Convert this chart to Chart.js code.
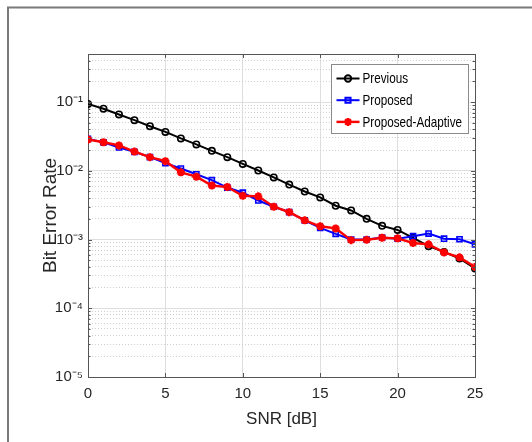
<!DOCTYPE html>
<html>
<head>
<meta charset="utf-8">
<script src="https://cdn.jsdelivr.net/npm/chart.js@4.4.1/dist/chart.umd.min.js"></script>
<style>
html,body{margin:0;padding:0;background:#fff;overflow:hidden}
#wrap{width:532px;height:442px;position:relative}
</style>
</head>
<body>
<div id="wrap"><canvas id="c" width="532" height="442"></canvas></div>
<script>
// ---- data ----
const snr = [0,1,2,3,4,5,6,7,8,9,10,11,12,13,14,15,16,17,18,19,20,21,22,23,24,25];
const previous = [0.094,0.080,0.066,0.0545,0.0445,0.0368,0.0296,0.0242,0.0195,0.0158,0.0126,0.0101,0.0080,0.0063,0.0050,0.0041,0.0031,0.00265,0.0020,0.00158,0.00138,0.00106,0.00080,0.00066,0.00053,0.00038];
const proposed = [0.0292,0.0259,0.0218,0.0189,0.0158,0.0129,0.0108,0.0089,0.0073,0.0057,0.0048,0.0037,0.0030,0.0025,0.0019,0.00148,0.00121,0.00100,0.00100,0.00107,0.00103,0.00112,0.00122,0.00103,0.00101,0.00085];
const adaptive = [0.0285,0.0260,0.0234,0.0190,0.0158,0.0138,0.0095,0.0082,0.0061,0.0058,0.00434,0.00425,0.0030,0.0025,0.0019,0.00156,0.00145,0.00098,0.00099,0.00106,0.00104,0.00089,0.00085,0.00065,0.00055,0.00040];
const seriesLabels = ['Previous','Proposed','Proposed-Adaptive'];
const xTickValues = [0,5,10,15,20,25];
const xTickLabels = ['0','5','10','15','20','25'];
const yTickValues = [1e-5,1e-4,1e-3,1e-2,1e-1];
const yTickLabels = ['10\u207B\u2075','10\u207B\u2074','10\u207B\u00B3','10\u207B\u00B2','10\u207B\u00B9'];
const yMin = 1e-5, yMax = 0.5;
const xTitle = 'SNR [dB]';
const yTitle = 'Bit Error Rate';

// ---- styling ----
const REG = "'Liberation Sans',Arial,sans-serif";
const TXT = '#262626';
const AXIS = '#555555';

// minor grid positions (1..9 x each decade)
const yGrid = [];
yTickValues.forEach(d => { for (let k = 1; k <= 9; k++) { const v = +(d * k).toPrecision(3); if (v <= yMax + 1e-12) yGrid.push(v); } });

function isMajorVal(v) { return yTickValues.some(t => Math.abs(Math.log10(v) - Math.log10(t)) < 1e-6); }

const decor = {
  id: 'decor',
  beforeDraw(chart) {
    const ctx = chart.ctx;
    ctx.save();
    ctx.fillStyle = '#fff';
    ctx.fillRect(0, 0, chart.width, chart.height);
    ctx.strokeStyle = '#7a7a7a';
    ctx.lineWidth = 2;
    ctx.beginPath();
    ctx.moveTo(8, chart.height);
    ctx.lineTo(8, 7.5);
    ctx.lineTo(chart.width, 7.5);
    ctx.stroke();
    ctx.restore();
  },
  afterDatasetsDraw(chart) {
    const ctx = chart.ctx, ca = chart.chartArea;
    const xs = chart.scales.x, ys = chart.scales.y;
    ctx.save();
    // box top/right
    ctx.strokeStyle = AXIS; ctx.lineWidth = 1;
    ctx.beginPath();
    ctx.moveTo(ca.left, ca.top + 0.5); ctx.lineTo(ca.right + 0.5, ca.top + 0.5); ctx.lineTo(ca.right + 0.5, ca.bottom);
    ctx.stroke();
    // inward ticks
    ctx.beginPath();
    xTickValues.forEach(v => {
      const px = Math.round(xs.getPixelForValue(v)) + 0.5;
      ctx.moveTo(px, ca.bottom); ctx.lineTo(px, ca.bottom - 4);
      ctx.moveTo(px, ca.top); ctx.lineTo(px, ca.top + 4);
    });
    yGrid.forEach(v => {
      const py = Math.round(ys.getPixelForValue(v)) + 0.5;
      const L = isMajorVal(v) ? 4 : 2.5;
      ctx.moveTo(ca.left, py); ctx.lineTo(ca.left + L, py);
      ctx.moveTo(ca.right, py); ctx.lineTo(ca.right - L, py);
    });
    ctx.stroke();

    // legend
    const w = 137, h = 69;
    const bx = Math.round(ca.right - 7 - w) + 0.5, by = Math.round(ca.top + 10) + 0.5;
    ctx.fillStyle = '#fff';
    ctx.fillRect(bx, by, w, h);
    ctx.strokeStyle = '#8a8a8a'; ctx.lineWidth = 1;
    ctx.strokeRect(bx, by, w, h);
    const dsets = chart.data.datasets;
    dsets.forEach((ds, i) => {
      const cy = by + 14 + i * 21.7;
      const x0 = bx + 5, x1 = bx + 28;
      ctx.strokeStyle = ds.borderColor; ctx.lineWidth = ds.borderWidth;
      ctx.beginPath(); ctx.moveTo(x0, cy); ctx.lineTo(x1, cy); ctx.stroke();
      ctx.fillStyle = ds.pointBackgroundColor;
      ctx.strokeStyle = ds.borderColor;
      Chart.helpers.drawPoint(ctx, {
        pointStyle: ds.pointStyle, radius: ds.pointRadius, rotation: 0,
        borderWidth: ds.pointBorderWidth
      }, (x0 + x1) / 2, cy);
      // condensed text, as in the reference figure
      ctx.save();
      ctx.translate(bx + 31, cy + 0.5);
      ctx.scale(0.78, 1);
      ctx.font = '15px ' + REG;
      ctx.textBaseline = 'middle';
      ctx.textAlign = 'left';
      ctx.fillStyle = '#000';
      ctx.fillText(ds.label, 0, 0);
      ctx.restore();
    });
    ctx.restore();
  }
};

const chart = new Chart(document.getElementById('c'), {
  type: 'line',
  data: {
    labels: snr,
    datasets: [
      { label: seriesLabels[0], data: snr.map((x, i) => ({x, y: previous[i]})), borderColor: '#000000', backgroundColor: 'rgba(0,0,0,0)',
        borderWidth: 2, pointStyle: 'circle', pointRadius: 3.2, pointBorderWidth: 1.6, pointBackgroundColor: 'rgba(0,0,0,0)', order: 3 },
      { label: seriesLabels[1], data: snr.map((x, i) => ({x, y: proposed[i]})), borderColor: '#0000ff', backgroundColor: 'rgba(0,0,0,0)',
        borderWidth: 2, pointStyle: 'rect', pointRadius: 3.6, pointBorderWidth: 1.6, pointBackgroundColor: 'rgba(0,0,0,0)', order: 2 },
      { label: seriesLabels[2], data: snr.map((x, i) => ({x, y: adaptive[i]})), borderColor: '#ff0000', backgroundColor: 'rgba(0,0,0,0)',
        borderWidth: 2.4, pointStyle: 'star', pointRadius: 4, pointBorderWidth: 2.4, pointBackgroundColor: '#ff0000', order: 1 }
    ]
  },
  options: {
    responsive: false,
    animation: false,
    devicePixelRatio: 1,
    layout: { padding: { left: 0, top: 54, right: 57, bottom: 0 } },
    plugins: { legend: { display: false }, tooltip: { enabled: false } },
    elements: { line: { tension: 0 } },
    scales: {
      x: {
        type: 'linear', min: 0, max: 25,
        afterBuildTicks(s) { s.ticks = xTickValues.map(v => ({ value: v })); },
        afterFit(s) { s.height = 65; },
        ticks: {
          autoSkip: false, maxRotation: 0, padding: 8, color: TXT,
          font: { family: REG, size: 15 },
          callback: (v) => { const i = xTickValues.indexOf(v); return i >= 0 ? xTickLabels[i] : ''; }
        },
        grid: { color: '#dedede', lineWidth: 1, drawTicks: false },
        border: { display: true, color: AXIS, width: 1 },
        title: { display: true, text: xTitle, color: TXT, font: { family: REG, size: 17 }, padding: { top: 0, bottom: 12 } }
      },
      y: {
        type: 'logarithmic', min: yMin, max: yMax,
        afterBuildTicks(s) { s.ticks = yGrid.map(v => ({ value: v, major: false })); },
        afterFit(s) { s.width = 88; },
        ticks: {
          autoSkip: false, padding: 5, color: TXT,
          font: { family: REG, size: 15 },
          callback: (v) => { for (let i = 0; i < yTickValues.length; i++) if (Math.abs(Math.log10(v) - Math.log10(yTickValues[i])) < 1e-6) return yTickLabels[i]; return ''; }
        },
        grid: {
          drawTicks: false, lineWidth: 1,
          color: (c) => (c.tick && isMajorVal(c.tick.value)) ? '#dedede' : '#cfcfcf'
        },
        border: {
          display: true, color: AXIS, width: 1,
          dash: (c) => (c.tick && !isMajorVal(c.tick.value)) ? [1, 2] : []
        },
        title: { display: true, text: yTitle, color: TXT, font: { family: REG, size: 19 }, padding: { top: 39, bottom: 0 } }
      }
    }
  },
  plugins: [decor]
});
</script>
</body>
</html>
